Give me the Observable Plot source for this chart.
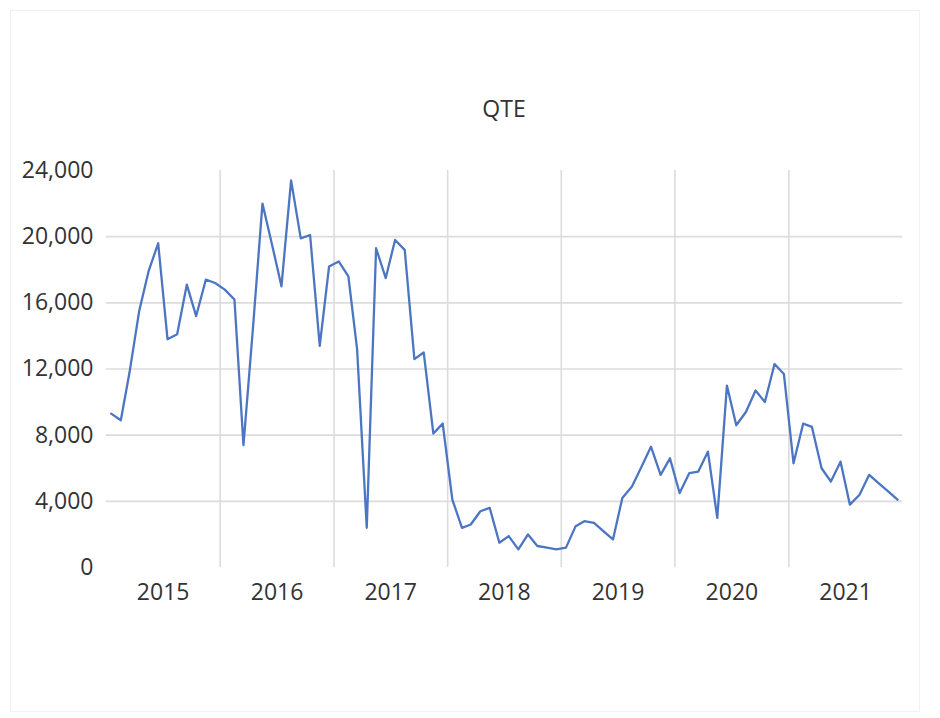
<!DOCTYPE html>
<html>
<head>
<meta charset="utf-8">
<script src="https://cdn.jsdelivr.net/npm/d3@7"></script>
<script src="https://cdn.jsdelivr.net/npm/@observablehq/plot@0.6"></script>
<style>
  html, body { margin: 0; padding: 0; background: #fff; }
  #wrap { position: relative; width: 940px; height: 718px; overflow: hidden; background: #fff; }
  #frame { position: absolute; left: 10px; top: 10px; width: 910px; height: 702px; border: 1px solid #f1f1f1; box-sizing: border-box; z-index: 2; pointer-events: none; }
  #title { position: absolute; left: 106px; width: 796px; top: 97px; text-align: center;
           font: 23px/23px "Open Sans", sans-serif; color: #333; }
  #chart { position: absolute; left: 0; top: 140px; }
</style>
</head>
<body>
<div id="wrap">
  <div id="title">QTE</div>
  <div id="chart"></div>
  <div id="frame"></div>
</div>
<script>
// Monthly QTE values, January to December of each year
const years = [2015, 2016, 2017, 2018, 2019, 2020, 2021];
const qte2015 = [9300, 8900, 11800, 15500, 17900, 19600, 13800, 14100, 17100, 15200, 17400, 17200];
const qte2016 = [16800, 16200, 7400, 14600, 22000, 19500, 17000, 23400, 19900, 20100, 13400, 18200];
const qte2017 = [18500, 17600, 13200, 2400, 19300, 17500, 19800, 19200, 12600, 13000, 8100, 8700];
const qte2018 = [4100, 2400, 2600, 3400, 3600, 1500, 1900, 1100, 2000, 1300, 1200, 1100];
const qte2019 = [1200, 2500, 2800, 2700, 2200, 1700, 4200, 4900, 6100, 7300, 5600, 6600];
const qte2020 = [4500, 5700, 5800, 7000, 3000, 11000, 8600, 9400, 10700, 10000, 12300, 11700];
const qte2021 = [6300, 8700, 8500, 6000, 5200, 6400, 3800, 4400, 5600, 5100, 4600, 4100];

const yTicks = [0, 4000, 8000, 12000, 16000, 20000, 24000];
const yGrid = [4000, 8000, 12000, 16000, 20000];

const series = [qte2015, qte2016, qte2017, qte2018, qte2019, qte2020, qte2021];
const rows = series.flatMap((vals, i) =>
  vals.map((v, m) => ({date: new Date(Date.UTC(years[i], m, 16)), value: v}))
);

// Year boundaries inside the plot and mid-year label positions
const yearStarts = years.slice(1).map(y => new Date(Date.UTC(y, 0, 1)));
const yearMids = years.map(y => new Date(Date.UTC(y, 6, 2)));

const chart = Plot.plot({
  width: 940,
  height: 578,
  marginLeft: 106,
  marginRight: 38,
  marginTop: 30,
  marginBottom: 151,
  style: {fontFamily: "'Open Sans', sans-serif", fontSize: "23px", color: "#333", background: "transparent"},
  x: {type: "utc", domain: [new Date(Date.UTC(2015, 0, 1)), new Date(Date.UTC(2022, 0, 1))]},
  y: {domain: [0, 24000]},
  marks: [
    Plot.ruleY(yGrid, {stroke: "#dcdcdc", strokeWidth: 1.6}),
    Plot.ruleX(yearStarts, {y1: 0, y2: 24000, stroke: "#dcdcdc", strokeWidth: 1.6}),
    Plot.axisY({ticks: yTicks, tickSize: 0, tickPadding: 13, tickFormat: d3.format(","), label: null, fill: "#333"}),
    Plot.axisX({ticks: yearMids, tickSize: 0, tickPadding: 16, tickFormat: d3.utcFormat("%Y"), label: null, fill: "#333"}),
    Plot.lineY(rows, {x: "date", y: "value", stroke: "#4c76c2", strokeWidth: 2.3, strokeLinejoin: "round"})
  ]
});
document.getElementById("chart").appendChild(chart);
</script>
</body>
</html>
